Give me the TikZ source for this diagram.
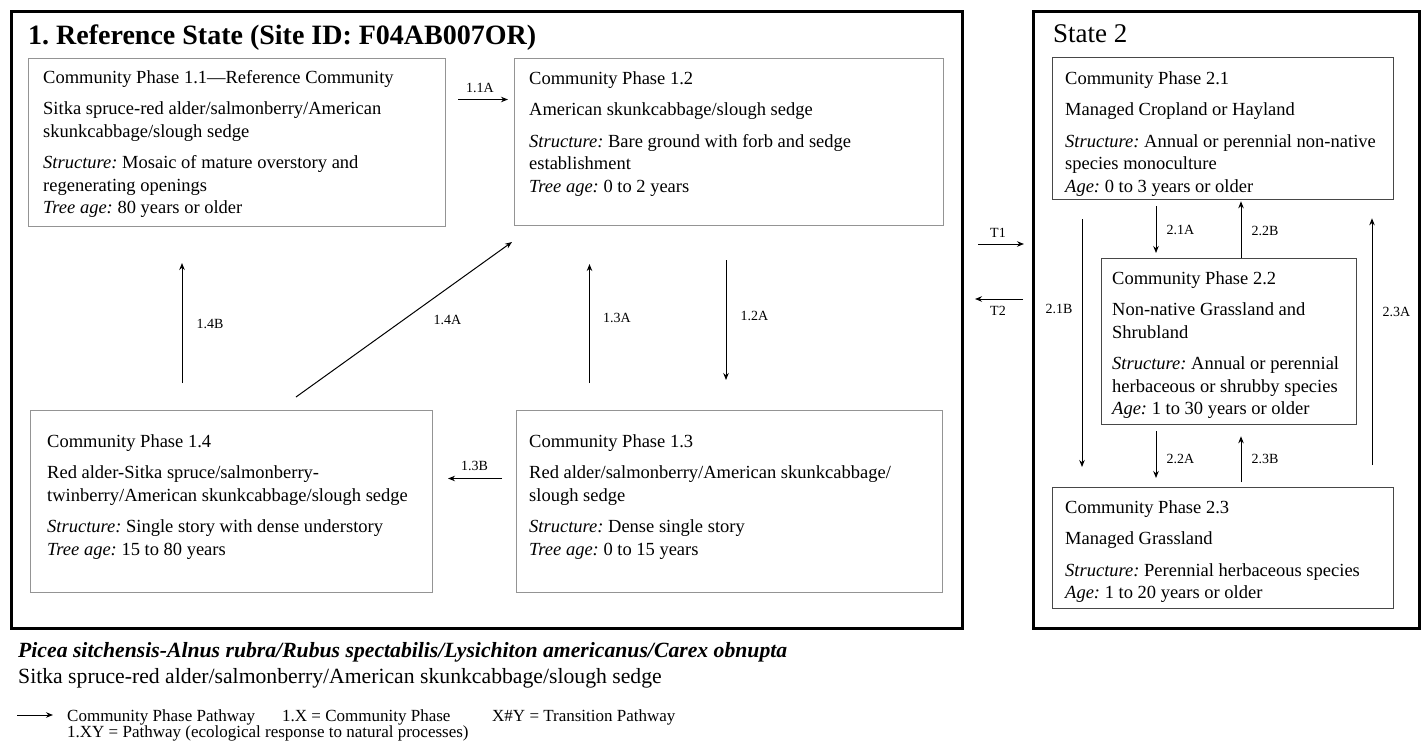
\documentclass[tikz,border=0pt]{standalone}
\usepackage{fontspec}
\setmainfont{Liberation Serif}
\usetikzlibrary{arrows.meta,positioning}
\frenchspacing

\begin{document}
\begin{tikzpicture}[x=1pt,y=-1pt,>={Stealth[length=7pt,width=5.5pt]},
    state/.style={draw,line width=3pt,anchor=north west,inner sep=0pt},
    phase/.style={draw=black!42,line width=1pt,anchor=north west,inner sep=0pt},
    phasetwo/.style={phase,draw=black!72,line width=1.3pt},
    txt/.style={anchor=north west,inner sep=0pt,align=left,font=\fontsize{18.5}{22.5}\selectfont},
    path/.style={->,line width=1pt},
    lbl/.style={inner sep=1pt,font=\fontsize{14}{16}\selectfont},
    lgd/.style={anchor=base west,inner sep=0pt,font=\fontsize{17}{18}\selectfont}]
  \useasboundingbox (0,0) rectangle (1425,747);

  % the two states
  \node[state,minimum width=951pt,minimum height=617pt] (s1) at (10,10) {};
  \node[state,minimum width=386pt,minimum height=617pt] (s2) at (1032,10) {};
  \node[anchor=base west,inner sep=0pt,font=\fontsize{28}{32}\selectfont\bfseries] (h1) at (28,44) {1. Reference State (Site ID: F04AB007OR)};
  \node[anchor=base west,inner sep=0pt,font=\fontsize{27}{30}\selectfont] (h2) at (1053,42) {State 2};

  % community phases, state 1
  \node[phase,minimum width=417pt,minimum height=168pt] (p11) at (28,58) {};
  \node[phase,minimum width=429pt,minimum height=167pt] (p12) at (514,58) {};
  \node[phase,minimum width=426pt,minimum height=182pt] (p13) at (516,410) {};
  \node[phase,minimum width=402pt,minimum height=182pt] (p14) at (30,410) {};

  \node[txt] (t11) at ([xshift=15pt,yshift=-12pt]p11.north west) {Community Phase 1.1---Reference Community\\[9pt]
    Sitka spruce-red alder/salmonberry/American\\ skunkcabbage/slough sedge\\[9pt]
    \textit{Structure:} Mosaic of mature overstory and\\ regenerating openings\\ \textit{Tree age:} 80 years or older};
  \node[txt] (t12) at ([xshift=15pt,yshift=-13pt]p12.north west) {Community Phase 1.2\\[9pt]
    American skunkcabbage/slough sedge\\[9pt]
    \textit{Structure:} Bare ground with forb and sedge\\ establishment\\ \textit{Tree age:} 0 to 2 years};
  \node[txt] (t13) at ([xshift=13pt,yshift=-24pt]p13.north west) {Community Phase 1.3\\[9pt]
    Red alder/salmonberry/American skunkcabbage/\\ slough sedge\\[9pt]
    \textit{Structure:} Dense single story\\ \textit{Tree age:} 0 to 15 years};
  \node[txt] (t14) at ([xshift=17pt,yshift=-24pt]p14.north west) {Community Phase 1.4\\[9pt]
    Red alder-Sitka spruce/salmonberry-\\ twinberry/American skunkcabbage/slough sedge\\[9pt]
    \textit{Structure:} Single story with dense understory\\ \textit{Tree age:} 15 to 80 years};

  % community phases, state 2
  \node[phasetwo,minimum width=341pt,minimum height=142pt] (p21) at (1052,57) {};
  \node[phasetwo,minimum width=255pt,minimum height=166pt] (p22) at (1101,258) {};
  \node[phasetwo,minimum width=341pt,minimum height=121pt] (p23) at (1052,487) {};

  \node[txt] (t21) at ([xshift=13pt,yshift=-14pt]p21.north west) {Community Phase 2.1\\[9pt]
    Managed Cropland or Hayland\\[9pt]
    \textit{Structure:} Annual or perennial non-native\\ species monoculture\\ \textit{Age:} 0 to 3 years or older};
  \node[txt] (t22) at ([xshift=11pt,yshift=-13pt]p22.north west) {Community Phase 2.2\\[9pt]
    Non-native Grassland and\\ Shrubland\\[9pt]
    \textit{Structure:} Annual or perennial\\ herbaceous or shrubby species\\ \textit{Age:} 1 to 30 years or older};
  \node[txt] (t23) at ([xshift=13pt,yshift=-13pt]p23.north west) {Community Phase 2.3\\[9pt]
    Managed Grassland\\[9pt]
    \textit{Structure:} Perennial herbaceous species\\ \textit{Age:} 1 to 20 years or older};

  % pathways, state 1
  \draw[path,shorten <=12pt,shorten >=6pt] ([yshift=43pt]p11.east) -- node[lbl,above=5pt]{1.1A} ([yshift=43pt]p11.east -| p12.west);
  \draw[path,shorten <=34pt,shorten >=30pt] ([xshift=-3pt]p12.south) -- node[lbl,pos=.49,right=13pt]{1.2A} ([xshift=-3pt]p12.south |- p13.north);
  \draw[path,shorten <=27pt,shorten >=38pt] ([xshift=73.5pt]p13.north west) -- node[lbl,pos=.5,right=12pt]{1.3A} ([xshift=73.5pt]p13.north west |- p12.south);
  \draw[path,shorten <=14pt,shorten >=15pt] ([yshift=23pt]p13.west) -- node[lbl,above=6pt]{1.3B} ([yshift=23pt]p13.west -| p14.east);
  \draw[path] ([xshift=266pt,yshift=13pt]p14.north west) -- node[lbl,pos=.5,right=28pt]{1.4A} ([xshift=-2pt,yshift=-16pt]p12.south west);
  \draw[path,shorten <=27pt,shorten >=36pt] ([xshift=152pt]p14.north west) -- node[lbl,pos=.47,right=13pt]{1.4B} ([xshift=152pt]p14.north west |- p11.south);

  % transitions
  \draw[path,shorten <=14pt,shorten >=8pt] ([yshift=76pt]s1.east) -- node[lbl,above=5pt]{T1} ([yshift=76pt]s2.west);
  \draw[path,shorten <=9pt,shorten >=11pt] ([yshift=21pt]s2.west) -- node[lbl,below=6pt]{T2} ([yshift=21pt]s1.east);

  % pathways, state 2
  \draw[path,shorten <=6pt,shorten >=5pt] ([xshift=104pt]p21.south west) -- node[lbl,pos=.52,right=9pt]{2.1A} ([xshift=104pt]p21.south west |- p22.north);
  \draw[path,shorten >=1pt] ([xshift=189pt]p21.south west |- p22.north) -- node[lbl,pos=.47,right=9pt]{2.2B} ([xshift=189pt]p21.south west);
  \draw[path,shorten <=6pt,shorten >=9pt] ([xshift=104pt]p21.south west |- p22.south) -- node[lbl,pos=.54,right=9pt]{2.2A} ([xshift=104pt]p21.south west |- p23.north);
  \draw[path,shorten <=5pt,shorten >=11pt] ([xshift=189pt]p21.south west |- p23.north) -- node[lbl,pos=.46,right=9pt]{2.3B} ([xshift=189pt]p21.south west |- p22.south);
  \draw[path,shorten <=19pt,shorten >=20pt] ([xshift=30pt]p21.south west) -- node[lbl,pos=.38,left=8pt]{2.1B} ([xshift=30pt]p21.south west |- p23.north);
  \draw[path,shorten <=22pt,shorten >=18pt] ([xshift=320pt]p21.south west |- p23.north) -- node[lbl,pos=.61,right=9pt]{2.3A} ([xshift=320pt]p21.south west);

  % site name and legend
  \node[anchor=base west,inner sep=0pt,font=\fontsize{21.7}{24}\selectfont\bfseries\itshape] (n1) at (18,657) {Picea sitchensis-Alnus rubra/Rubus spectabilis/Lysichiton americanus/Carex obnupta};
  \node[anchor=base west,inner sep=0pt,font=\fontsize{21.7}{24}\selectfont] (n2) at (18,683) {Sitka spruce-red alder/salmonberry/American skunkcabbage/slough sedge};

  \coordinate (lgarr) at (17,715);
  \node[lgd] (lg1) at (67,721) {Community Phase Pathway};
  \node[lgd] (lg2) at (282,721) {1.X = Community Phase};
  \node[lgd] (lg3) at (492,721) {X\#Y = Transition Pathway};
  \node[lgd] (lg4) at (67,737) {1.XY = Pathway (ecological response to natural processes)};
  \draw[path,shorten >=14pt] (lgarr) -- (lgarr -| lg1.west);
\end{tikzpicture}
\end{document}
